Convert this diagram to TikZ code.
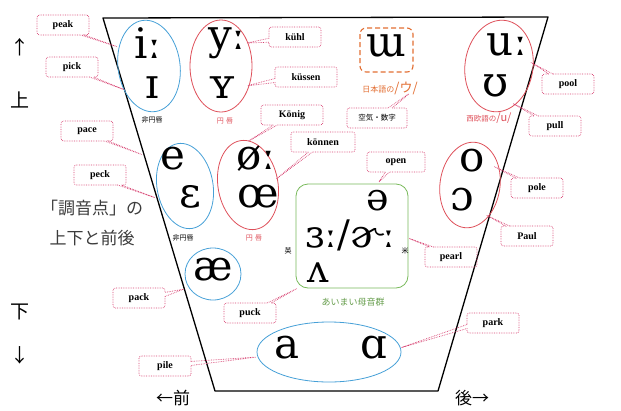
\documentclass[tikz,border=0pt]{standalone}
\usepackage{fontspec}
\setmainfont{Liberation Serif}
\newfontfamily\ipafont{DejaVu Serif}
\newfontfamily\jpfont{Noto Sans CJK JP}
\usetikzlibrary{shapes.callouts}
\definecolor{lbl}{RGB}{214,64,112}
\definecolor{bl}{RGB}{70,160,215}
\definecolor{rd}{RGB}{222,80,90}
\definecolor{og}{RGB}{226,110,50}
\definecolor{gr}{RGB}{120,185,90}
\definecolor{dg}{RGB}{60,60,60}
\begin{document}
\begin{tikzpicture}[x=1pt,y=-1pt,
  word/.style={rectangle callout, draw=lbl, densely dotted, line width=0.7pt,
    rounded corners=2.5pt, minimum width=52pt, minimum height=20pt, inner sep=1pt,
    font=\fontsize{10}{12}\selectfont\bfseries, callout pointer width=4pt},
  vow/.style={font=\ipafont\fontsize{42}{44}\selectfont, inner sep=0pt},
  vowm/.style={font=\ipafont\fontsize{38}{40}\selectfont, inner sep=0pt},
  jps/.style={font=\jpfont\fontsize{7}{8}\selectfont, inner sep=0pt},
  big/.style={font=\jpfont\fontsize{19}{20}\selectfont, inner sep=0pt},
  grp/.style={line width=0.8pt}]
\useasboundingbox (0,0) rectangle (621,410);
% frame
\draw[line width=1.3pt, line join=round] (103,18) -- (548,17) -- (438,391) -- (215,391) -- cycle;
% axis texts
\node[big] (up1) at (20,47) {↑};
\node[big] (up2) at (20,100) {上};
\node[big] (dn1) at (20,312) {下};
\node[big] (dn2) at (20,355) {↓};
\node[big, font=\jpfont\fontsize{17}{18}\selectfont] (front) at (173,398) {←前};
\node[big, font=\jpfont\fontsize{17}{18}\selectfont] (back) at (472,398) {後→};
\node[font=\jpfont\fontsize{17}{18}\selectfont, text=dg, inner sep=0pt] (t1) at (92,208) {「調音点」の};
\node[font=\jpfont\fontsize{17}{18}\selectfont, text=dg, inner sep=0pt] (t2) at (92,238) {上下と前後};
% groups
\draw[bl, grp, rotate around={8:(149,66)}] (149,66) ellipse [x radius=31, y radius=46];
\draw[rd, grp] (221,66) ellipse [x radius=31, y radius=46];
\draw[og, line width=1.1pt, dash pattern=on 5pt off 3pt, rounded corners=6pt] (360,28) rectangle (413,72);
\draw[rd, grp, rotate around={-8:(499,66)}] (499,66) ellipse [x radius=34, y radius=46];
\draw[bl, grp, rotate around={10:(185,186)}] (185,186) ellipse [x radius=28, y radius=43];
\draw[rd, grp, rotate around={10:(248,185)}] (248,185) ellipse [x radius=30, y radius=45];
\draw[gr, grp, rounded corners=12pt] (296,184) rectangle (408,288);
\draw[bl, grp] (213,274) ellipse [x radius=28, y radius=26];
\draw[rd, grp, rotate around={-8:(470,185)}] (470,185) ellipse [x radius=30, y radius=43];
\draw[bl, grp] (329,352) ellipse [x radius=72, y radius=30];
% vowels
\node[vow] (iL) at (148,43) {iː};
\node[vow] (iS) at (152,88) {ɪ};
\node[vow] (yL) at (227,43) {yː};
\node[vow] (yS) at (222,88) {ʏ};
\node[vow] (uu) at (386,46) {ɯ};
\node[vow] (uL) at (507,45) {uː};
\node[vow] (uS) at (496,86) {ʊ};
\node[vow] (e) at (173,159) {e};
\node[vow] (eo) at (190,197) {ɛ};
\node[vow] (oL) at (256,159) {øː};
\node[vow] (oe) at (258,197) {œ};
\node[vow] (o) at (472,161) {o};
\node[vow] (oo) at (462,200) {ɔ};
\node[vow] (ae) at (213,270) {æ};
\node[vowm] (schwa) at (378,201) {ə};
\node[vowm] (er) at (350,235) {ɜː/ɚː};
\node[vowm] (wedge) at (318,273) {ʌ};
\node[vow] (a) at (287,348) {a};
\node[vow] (aa) at (374,348) {ɑ};
% small captions
\node[jps] (c1) at (152,120) {非円唇};
\node[jps, text=rd] (c2) at (225,121) {円\,\,唇};
\node[jps] (c3) at (183,238) {非円唇};
\node[jps, text=rd] (c4) at (254,238) {円\,\,唇};
\node[jps] (c5) at (288,251) {英};
\node[jps] (c6) at (405,251) {米};
\node[inner sep=0pt, text=og, font=\jpfont\fontsize{8}{9}\selectfont] (jpu) at (390,88) {日本語の{\fontsize{13}{14}\selectfont /ウ/}};
\node[inner sep=0pt, text=rd, font=\jpfont\fontsize{7.5}{9}\selectfont] (weu) at (489,118) {西欧語の{\fontsize{11}{12}\selectfont /u/}};
\node[inner sep=0pt, text=gr!85!black, font=\jpfont\fontsize{9}{10}\selectfont] (aimai) at (353,302) {あいまい母音群};
% pointer targets
\coordinate (p-peak) at (118,47);
\coordinate (p-pick) at (125,90);
\coordinate (p-pace) at (143,155);
\coordinate (p-peck) at (156,198);
\coordinate (p-kuhl) at (247,43);
\coordinate (p-kussen) at (246,86);
\coordinate (p-konig) at (247,142);
\coordinate (p-konnen) at (275,180);
\coordinate (p-kuki) at (410,93);
\coordinate (p-open) at (378,183);
\coordinate (p-pearl) at (408,238);
\coordinate (p-pool) at (532,63);
\coordinate (p-pull) at (512,103);
\coordinate (p-pole) at (493,166);
\coordinate (p-paul) at (488,216);
\coordinate (p-pack) at (184,289);
\coordinate (p-puck) at (298,288);
\coordinate (p-pile) at (257,357);
\coordinate (p-park) at (400,348);
% word labels
\node[word, callout absolute pointer={(p-peak)}] (w-peak) at (63,25) {peak};
\node[word, callout absolute pointer={(p-pick)}] (w-pick) at (72,67) {pick};
\node[word, callout absolute pointer={(p-pace)}] (w-pace) at (87,131) {pace};
\node[word, callout absolute pointer={(p-peck)}] (w-peck) at (100,175) {peck};
\node[word, callout absolute pointer={(p-kuhl)}] (w-kuhl) at (295,37) {kühl};
\node[word, minimum width=62pt, callout absolute pointer={(p-kussen)}] (w-kussen) at (306,77) {küssen};
\node[word, minimum width=62pt, callout absolute pointer={(p-konig)}] (w-konig) at (292,115) {König};
\node[word, minimum width=64pt, callout absolute pointer={(p-konnen)}] (w-konnen) at (323,142) {können};
\node[word, minimum width=60pt, font=\jpfont\fontsize{7.5}{9}\selectfont, callout absolute pointer={(p-kuki)}] (w-kuki) at (377,118) {空気・数字};
\node[word, minimum width=58pt, callout absolute pointer={(p-open)}] (w-open) at (396,162) {open};
\node[word, callout absolute pointer={(p-pearl)}] (w-pearl) at (451,257) {pearl};
\node[word, callout absolute pointer={(p-pool)}] (w-pool) at (568,84) {pool};
\node[word, callout absolute pointer={(p-pull)}] (w-pull) at (555,126) {pull};
\node[word, callout absolute pointer={(p-pole)}] (w-pole) at (537,188) {pole};
\node[word, callout absolute pointer={(p-paul)}] (w-paul) at (527,236) {Paul};
\node[word, callout absolute pointer={(p-pack)}] (w-pack) at (139,298) {pack};
\node[word, callout absolute pointer={(p-puck)}] (w-puck) at (250,313) {puck};
\node[word, callout absolute pointer={(p-pile)}] (w-pile) at (165,366) {pile};
\node[word, callout absolute pointer={(p-park)}] (w-park) at (493,323) {park};
\end{tikzpicture}
\end{document}
